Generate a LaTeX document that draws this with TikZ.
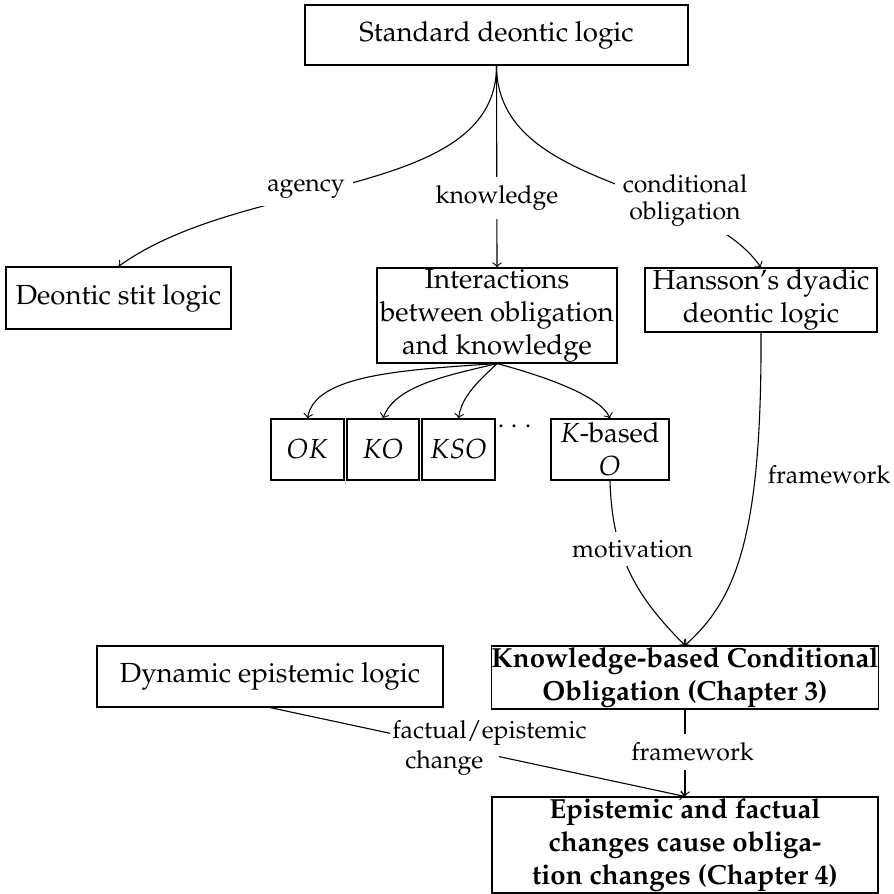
\documentclass[tikz,border=0pt]{standalone}
\usepackage[T1]{fontenc}
\usepackage{mathpazo}
\newcommand\pxu{0.3623pt}
\tikzset{
  box/.style={draw, align=center, inner sep=0pt},
  lbl/.style={fill=white, inner sep=3pt, align=center, font=\fontsize{9}{10}\selectfont},
  conn/.style={->},
}
\begin{document}
\begin{tikzpicture}[x=0.3623pt, y=-0.3623pt]
\useasboundingbox (0,0) rectangle (894,894);
% boxes
\node[box, minimum width=383*\pxu, minimum height=60*\pxu] (std) at (496.5,35) {Standard deontic logic};
\node[box, minimum width=225*\pxu, minimum height=62*\pxu] (stit) at (118.5,298) {Deontic stit logic};
\node[box, minimum width=240*\pxu, minimum height=95*\pxu] (inter) at (497,315.5) {Interactions\\between obligation\\and knowledge};
\node[box, minimum width=232*\pxu, minimum height=64*\pxu] (hans) at (761,300) {Hansson's dyadic\\deontic logic};
\node[box, minimum width=73*\pxu, minimum height=61*\pxu] (ok) at (307.5,449.5) {$OK$};
\node[box, minimum width=72*\pxu, minimum height=61*\pxu] (ko) at (383,449.5) {$KO$};
\node[box, minimum width=73*\pxu, minimum height=61*\pxu] (kso) at (458.5,449.5) {$KSO$};
\node[inner sep=0pt] (dots) at (515,427) {$\cdots$};
\node[box, minimum width=118*\pxu, minimum height=61*\pxu] (kb) at (610,449.5) {$K$-based\\$O$};
\node[box, minimum width=386*\pxu, minimum height=63*\pxu, font=\bfseries] (kbco) at (685,677.5) {Knowledge-based Conditional\\Obligation (Chapter 3)};
\node[box, minimum width=346*\pxu, minimum height=61*\pxu] (dyn) at (270,676.5) {Dynamic epistemic logic};
\node[box, minimum width=386*\pxu, minimum height=96*\pxu, font=\bfseries] (epi) at (685,845) {Epistemic and factual\\changes cause obliga-\\tion changes (Chapter 4)};
% connectors
\draw[conn] (std.south) .. controls (497,200) and (245,175) .. (stit.north);
\draw[conn] (std.south) -- (inter.north);
\draw[conn] (std.south) .. controls (497,190) and (700,180) .. (hans.north);
\draw[conn] (inter.south) .. controls (400,370) and (315,375) .. (ok.north);
\draw[conn] (inter.south) .. controls (450,375) and (395,385) .. (ko.north);
\draw[conn] (inter.south) .. controls (480,380) and (462,395) .. (kso.north);
\draw[conn] (inter.south) .. controls (540,375) and (600,395) .. (kb.north);
\draw[conn] (kb.south) .. controls (612,560) and (640,600) .. (kbco.north);
\draw[conn] (hans.south) .. controls (762,540) and (735,600) .. (kbco.north);
\draw[conn] (kbco.south) -- (epi.north);
\draw[conn] (dyn.south) -- (epi.north);
% labels
\node[lbl] (lagency) at (306,188.5) {agency};
\node[lbl] (lknow) at (497,198) {knowledge};
\node[lbl] (lcond) at (685,200.5) {conditional\\obligation};
\node[lbl, fill=none] (lfw1) at (829,475) {framework};
\node[lbl] (lmot) at (632.5,549) {motivation};
\node[lbl] (lfw2) at (692.5,752) {framework};
\node[lbl, inner sep=1pt, text width=104*\pxu, font=\small, anchor=north west] (lfact) at (389,717) {\mbox{factual/epistemic}\\change};
\end{tikzpicture}
\end{document}
